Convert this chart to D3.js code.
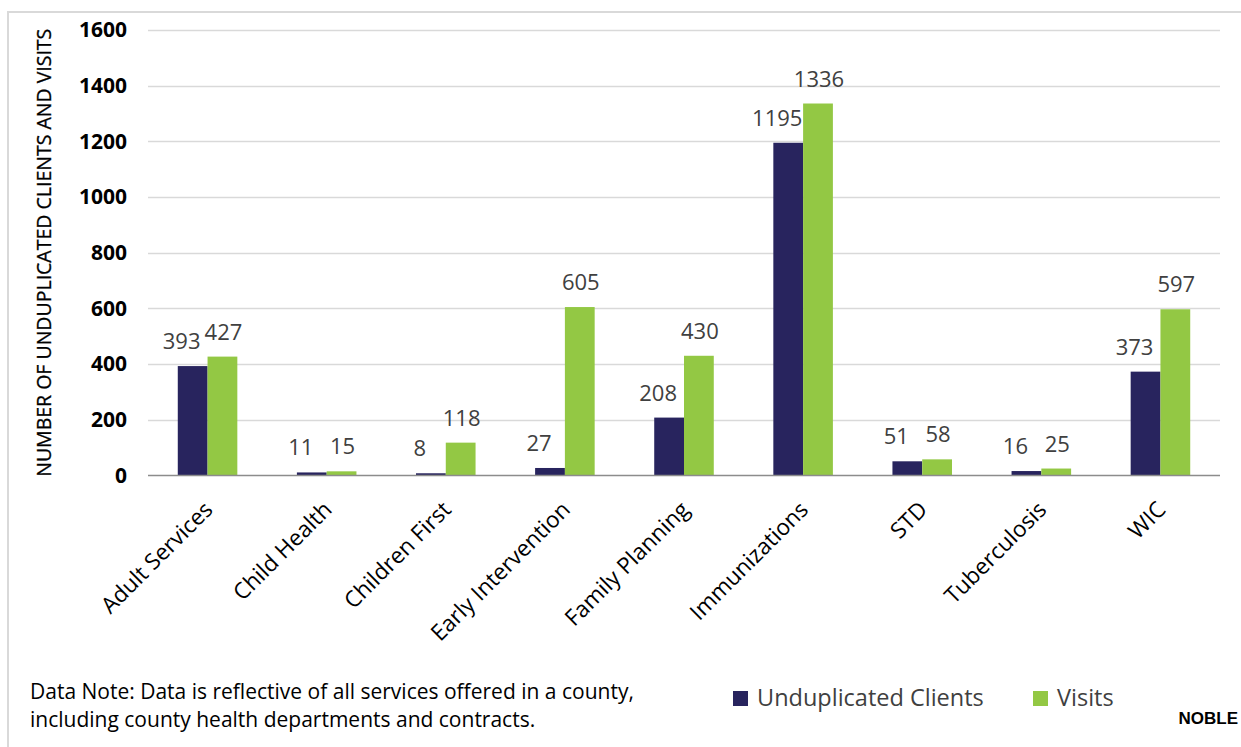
<!DOCTYPE html>
<html>
<head>
<meta charset="utf-8">
<script src="https://cdn.jsdelivr.net/npm/d3@7"></script>
<style>
  body { margin: 0; background: #fff; }
  text { font-family: "Open Sans", Lato, sans-serif; }
</style>
</head>
<body>
<div id="chart"></div>
<script>
// chart data
var categories = ["Adult Services", "Child Health", "Children First", "Early Intervention",
  "Family Planning", "Immunizations", "STD", "Tuberculosis", "WIC"];
var clients = [393, 11, 8, 27, 208, 1195, 51, 16, 373];
var visits = [427, 15, 118, 605, 430, 1336, 58, 25, 597];
var seriesNames = ["Unduplicated Clients", "Visits"];
var yTicks = [0, 200, 400, 600, 800, 1000, 1200, 1400, 1600];

var width = 1241, height = 747;
var colors = ["#28245e", "#93c844"];
var margin = {left: 148, right: 21, top: 30, bottom: 272};

var svg = d3.select("#chart").append("svg")
  .attr("width", width)
  .attr("height", height);

// outer frame
svg.append("rect")
  .attr("x", 8).attr("y", 12)
  .attr("width", width + 20).attr("height", height + 20)
  .style("fill", "none")
  .style("stroke", "#d9d9d9")
  .style("stroke-width", 2);

var x0 = d3.scaleBand()
  .domain(categories)
  .range([margin.left, width - margin.right])
  .paddingInner(0.5)
  .paddingOuter(0.25);

var x1 = d3.scaleBand()
  .domain(seriesNames)
  .range([0, x0.bandwidth()]);

var y = d3.scaleLinear()
  .domain([0, 1600])
  .range([height - margin.bottom + 0.5, margin.top]);

// gridlines
svg.append("g")
  .selectAll("line")
  .data(yTicks.slice(1))
  .enter().append("line")
    .attr("x1", margin.left)
    .attr("x2", width - margin.right)
    .attr("y1", function(d) { return Math.round(y(d)) + 0.5; })
    .attr("y2", function(d) { return Math.round(y(d)) + 0.5; })
    .style("stroke", "#d9d9d9")
    .style("stroke-width", 1.5);

// y axis labels
var yAxis = svg.append("g")
  .attr("transform", "translate(127,0)")
  .call(d3.axisLeft(y).tickValues(yTicks).tickFormat(d3.format("d")).tickSize(0).tickPadding(0));
yAxis.select(".domain").remove();
yAxis.selectAll("text")
  .style("font-family", "'Open Sans', sans-serif")
  .style("font-size", "21px")
  .style("font-weight", "bold")
  .style("fill", "#000");

// y axis title
svg.append("text")
  .attr("transform", "translate(51," + ((margin.top + y(0)) / 2) + ") rotate(-90)")
  .attr("text-anchor", "middle")
  .style("font-size", "19.5px")
  .style("fill", "#000")
  .style("stroke", "#000")
  .style("stroke-width", 0.3)
  .text("NUMBER OF UNDUPLICATED CLIENTS AND VISITS");

// bars
var rows = categories.map(function(c, i) {
  return {category: c, values: [clients[i], visits[i]]};
});

var groups = svg.append("g").selectAll("g")
  .data(rows)
  .enter().append("g")
    .attr("transform", function(d) { return "translate(" + x0(d.category) + ",0)"; });

groups.selectAll("rect")
  .data(function(d) { return d.values.map(function(v, j) { return {series: seriesNames[j], value: v, j: j}; }); })
  .enter().append("rect")
    .attr("x", function(d) { return x1(d.series); })
    .attr("y", function(d) { return y(d.value); })
    .attr("width", x1.bandwidth())
    .attr("height", function(d) { return y(0) - y(d.value); })
    .style("fill", function(d) { return colors[d.j]; });

// data labels (clients labels sit a little to the left, as in the original)
groups.selectAll("text")
  .data(function(d) { return d.values.map(function(v, j) { return {series: seriesNames[j], value: v, j: j}; }); })
  .enter().append("text")
    .attr("x", function(d) { return x1(d.series) + x1.bandwidth() / 2 + (d.j == 0 ? -11 : 1); })
    .attr("y", function(d) { return y(d.value) - 17; })
    .attr("text-anchor", "middle")
    .style("font-size", "22px")
    .style("fill", "#404040")
    .text(function(d) { return d.value; });

// baseline
svg.append("line")
  .attr("x1", margin.left)
  .attr("x2", width - margin.right)
  .attr("y1", y(0))
  .attr("y2", y(0))
  .style("stroke", "#8c8c8c")
  .style("stroke-width", 1.5);

// category labels
svg.append("g").selectAll("text")
  .data(categories)
  .enter().append("text")
    .attr("transform", function(d) {
      return "translate(" + (x0(d) + x0.bandwidth() / 2 + 1) + "," + (y(0) + 30) + ") rotate(-45)";
    })
    .attr("text-anchor", "end")
    .attr("dy", "0.35em")
    .style("font-size", "22.5px")
    .style("fill", "#000")
    .text(function(d) { return d; });

// note
var note = svg.append("text")
  .attr("x", 30)
  .attr("y", 699)
  .style("font-size", "21px")
  .style("fill", "#000");
note.append("tspan").attr("x", 30).text("Data Note: Data is reflective of all services offered in a county,");
note.append("tspan").attr("x", 30).attr("dy", 28).text("including county health departments and contracts.");

// legend
var legendX = [733, 1033];
var legend = svg.append("g").selectAll("g")
  .data(seriesNames)
  .enter().append("g")
    .attr("transform", function(d, i) { return "translate(" + legendX[i] + ",691)"; });
legend.append("rect")
  .attr("width", 15).attr("height", 15)
  .style("fill", function(d, i) { return colors[i]; });
legend.append("text")
  .attr("x", 24)
  .attr("y", 15)
  .style("font-size", "23.5px")
  .style("fill", "#404040")
  .text(function(d) { return d; });

svg.append("text")
  .attr("x", 1238)
  .attr("y", 724)
  .attr("text-anchor", "end")
  .style("font-family", "'Liberation Sans Narrow', sans-serif")
  .style("font-size", "17px")
  .style("font-weight", "bold")
  .style("fill", "#000")
  .text("NOBLE");
</script>
</body>
</html>
